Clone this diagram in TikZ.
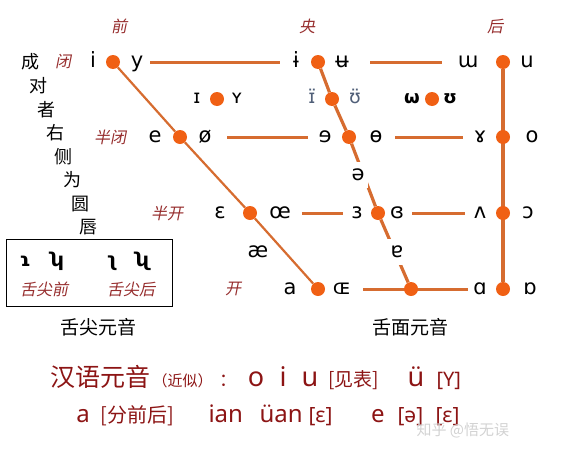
\documentclass[tikz,border=0pt]{standalone}
\usepackage{fontspec}
\setmainfont{Noto Sans}
\newfontfamily\ipa{DejaVu Sans}
\newfontfamily\cjk{Noto Sans CJK SC}
\newfontfamily\cjkit{Noto Sans CJK SC}[FakeSlant=0.2]
\usetikzlibrary{backgrounds}
\definecolor{dotorange}{RGB}{240,96,20}
\definecolor{lineorange}{RGB}{214,108,48}
\definecolor{labelred}{RGB}{150,45,45}
\definecolor{textred}{RGB}{140,20,20}
\definecolor{greyblue}{RGB}{80,95,120}
\tikzset{
  vdot/.style={circle, fill=dotorange, minimum size=14, inner sep=0},
  vowel/.style={font=\ipa\fontsize{21}{21}\selectfont, inner sep=1, minimum width=20, text height=14, text depth=4},
  minor/.style={font=\ipa\fontsize{19}{19}\selectfont, inner sep=1, text height=12, text depth=3},
  lbl/.style={font=\cjkit\fontsize{16}{16}\selectfont, text=labelred},
  side/.style={font=\cjk\fontsize{18}{18}\selectfont},
  hline/.style={draw=lineorange, line width=3},
  frontline/.style={draw=lineorange, line width=2.2},
  midline/.style={draw=lineorange, line width=3.2},
  backline/.style={draw=lineorange, line width=3.8},
  big/.style={anchor=base, text=textred, font=\fontsize{27}{27}\selectfont},
  mid/.style={anchor=base, text=textred, font=\fontsize{24}{24}\selectfont},
  zh/.style={anchor=base west, text=textred, font=\cjk\fontsize{19}{19}\selectfont},
}
\begin{document}
\begin{tikzpicture}[x=1pt, y=-1pt]
\useasboundingbox (0,0) rectangle (570,450);
% column and row labels
\node[lbl] (front) at (119,26) {前};
\node[lbl] (central) at (307,26) {央};
\node[lbl] (back) at (495,26) {后};
\node[lbl] (close) at (63,62) {闭};
\node[lbl] (closemid) at (110,137) {半闭};
\node[lbl] (openmid) at (167,213) {半开};
\node[lbl] (open) at (233,289) {开};
% note on the left
\foreach \ch [count=\k from 0] in {成,对,者,右,侧,为,圆,唇}
  \node[side] (side\k) at ({30+8.4*\k},{62+23.6*\k}) {\ch};
% dots
\node[vdot] (f1) at (113,62) {};
\node[vdot] (f2) at (180,137) {};
\node[vdot] (f3) at (250,213) {};
\node[vdot] (f4) at (318,289) {};
\node[vdot] (c1) at (318,62) {};
\node[vdot] (c15) at (332,99) {};
\node[vdot] (c2) at (349,137) {};
\node[vdot] (c3) at (378,213) {};
\node[vdot] (c4) at (411,289) {};
\node[vdot] (b1) at (503,62) {};
\node[vdot] (b2) at (503,137) {};
\node[vdot] (b3) at (503,213) {};
\node[vdot] (b4) at (503,289) {};
\node[vdot] (m1) at (217,99) {};
\node[vdot] (m3) at (432,99) {};
% vowels
\node[vowel] (i) at (93,62) {i};
\node[vowel] (y) at (137,62) {y};
\node[vowel] (ibar) at (296,62) {ɨ};
\node[vowel] (ubar) at (342,62) {ʉ};
\node[vowel] (mu) at (468,62) {ɯ};
\node[vowel] (u) at (527,62) {u};
\node[vowel] (e) at (155,137) {e};
\node[vowel] (oslash) at (205,137) {ø};
\node[vowel] (erev) at (325,137) {ɘ};
\node[vowel] (obar) at (376,137) {ɵ};
\node[vowel] (gamma) at (480,137) {ɤ};
\node[vowel] (o) at (532,137) {o};
\node[vowel] (eps) at (220,213) {ɛ};
\node[vowel] (oe) at (280,213) {œ};
\node[vowel] (epsrev) at (357,213) {ɜ};
\node[vowel] (epsclosed) at (397,213) {ɞ};
\node[vowel] (turnv) at (480,213) {ʌ};
\node[vowel] (openo) at (528,213) {ɔ};
\node[vowel] (a) at (290,289) {a};
\node[vowel] (OE) at (342,289) {ɶ};
\node[vowel] (alpha) at (480,289) {ɑ};
\node[vowel] (turnalpha) at (530,289) {ɒ};
\node[minor] (ismall) at (197,99) {ɪ};
\node[minor] (ysmall) at (237,99) {ʏ};
\node[minor, text=greyblue] (icent) at (312,99) {ɪ̈};
\node[minor, text=greyblue] (ucent) at (355,99) {ʊ̈};
\node[minor, font=\ipa\bfseries\fontsize{18}{18}\selectfont] (omega) at (412,99) {ω};
\node[minor, font=\ipa\bfseries\fontsize{18}{18}\selectfont] (upsilon) at (450,99) {ʊ};
\node[vowel, fill=white, minimum width=0, inner sep=4] (schwa) at (358,175) {ə};
\node[vowel] (ash) at (258,252) {æ};
\node[vowel, fill=white, minimum width=0, inner sep=4] (turna) at (397,252) {ɐ};
% lines
\begin{scope}[on background layer]
\draw[frontline] (f1) -- (f2) -- (f3) -- (f4);
\draw[midline] (c1) -- (c15) -- (c2) -- (c3) -- (c4);
\draw[backline] (b1) -- (b4);
\draw[hline, shorten <=3, shorten >=6] (y) -- (ibar);
\draw[hline, shorten <=18, shorten >=15] (ubar) -- (mu);
\draw[hline, shorten <=12, shorten >=7] (oslash) -- (erev);
\draw[hline, shorten <=9, shorten >=7] (obar) -- (gamma);
\draw[hline, shorten <=10, shorten >=4] (oe) -- (epsrev);
\draw[hline, shorten <=5, shorten >=5] (epsclosed) -- (turnv);
\draw[hline, shorten <=11, shorten >=2] (OE) -- (alpha);
\end{scope}
% apical vowels
\node[draw, line width=0.8, minimum width=166, minimum height=67, inner sep=0] (apical) at (89,272.5) {};
\node[vowel, font=\ipa\bfseries\fontsize{19}{19}\selectfont] (apfront) at (25,261) {ɿ};
\node[vowel, font=\ipa\bfseries\fontsize{19}{19}\selectfont] (apfrontr) at (57,261) {ʮ};
\node[vowel, font=\ipa\bfseries\fontsize{19}{19}\selectfont] (apback) at (112,261) {ʅ};
\node[vowel, font=\ipa\bfseries\fontsize{19}{19}\selectfont] (apbackr) at (143,261) {ʯ};
\node[lbl] (apfrontlbl) at (44,289) {舌尖前};
\node[lbl] (apbacklbl) at (131,289) {舌尖后};
\node[side, font=\cjk\fontsize{19}{19}\selectfont] (apicaltitle) at (98,327) {舌尖元音};
\node[side, font=\cjk\fontsize{19}{19}\selectfont] (dorsaltitle) at (410,327) {舌面元音};
% Chinese vowels
\node[zh, font=\cjk\fontsize{25}{25}\selectfont] (hanyu) at (47,386) {汉语元音};
\node[zh, font=\cjk\fontsize{15}{15}\selectfont] (approx) at (149,386) {（近似）};
\node[zh, font=\cjk\fontsize{18}{18}\selectfont] (colon) at (216,386) {：};
\node[big] (zo) at (256,386) {o};
\node[big] (zi) at (283,386) {i};
\node[big] (zu) at (310,386) {u};
\node[zh] (seetable) at (325,386) {[见表]};
\node[big] (zyu) at (416,386) {ü};
\node[zh, font=\fontsize{20}{20}\selectfont] (zyuval) at (433,386) {[Y]};
\node[mid] (za) at (83,422) {a};
\node[zh, font=\cjk\fontsize{20}{20}\selectfont] (zasplit) at (97,422) {[分前后]};
\node[mid, anchor=base west] (zian) at (205,422) {ian};
\node[mid, anchor=base west] (zyuan) at (256,422) {üan};
\node[zh, font=\fontsize{21}{21}\selectfont] (zianval) at (305,422) {[ɛ]};
\node[mid] (ze) at (378,422) {e};
\node[zh, font=\fontsize{21}{21}\selectfont] (zeval) at (394,422) {[ə]};
\node[zh, font=\fontsize{21}{21}\selectfont] (zeval2) at (432,422) {[ɛ]};
\node[anchor=base west, text=gray!35, font=\cjk\fontsize{15}{15}\selectfont] (mark) at (413,435) {知乎 @悟无误};
\end{tikzpicture}
\end{document}
